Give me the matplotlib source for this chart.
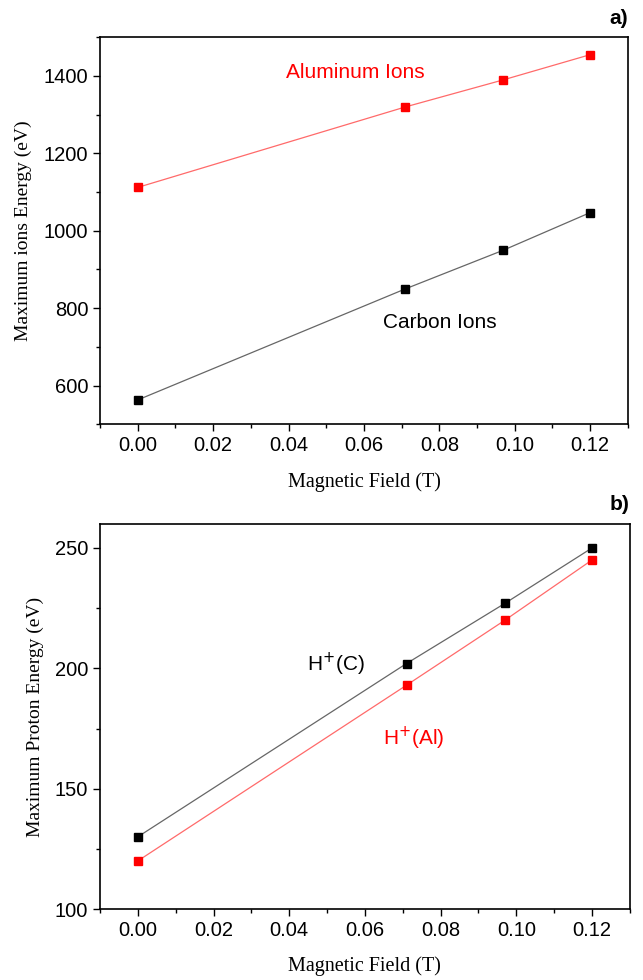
import matplotlib.pyplot as plt
from matplotlib.ticker import MultipleLocator

field = [0.0, 0.071, 0.097, 0.12]
aluminum_ions = [1112, 1320, 1390, 1455]
carbon_ions = [563, 850, 950, 1047]
proton_c = [130, 202, 227, 250]
proton_al = [120, 193, 220, 245]

sans = ['Liberation Sans', 'DejaVu Sans']
serif = ['Liberation Serif', 'DejaVu Serif']


def style_axes(ax):
    ax.set_xlim(-0.01, 0.13)
    ax.xaxis.set_major_locator(MultipleLocator(0.02))
    ax.xaxis.set_minor_locator(MultipleLocator(0.01))
    ax.tick_params(which='both', direction='out', top=False, right=False)
    ax.tick_params(which='major', length=5, width=1, labelsize=14.5)
    ax.tick_params(which='minor', length=3, width=1)
    for lbl in ax.get_xticklabels() + ax.get_yticklabels():
        lbl.set_fontfamily(sans)
    for s in ax.spines.values():
        s.set_linewidth(1.2)
    ax.set_xlabel('Magnetic Field (T)', fontfamily=serif, fontsize=14.5, labelpad=12)
    ax.xaxis.set_major_formatter(plt.FuncFormatter(lambda v, p: '%.2f' % v))


fig = plt.figure(figsize=(6.43, 9.8), dpi=100)

ax1 = fig.add_axes([0.1555, 0.567, 0.821, 0.395])
ax1.plot(field, aluminum_ions, color='#ff6a6a', lw=0.9, marker='s', ms=6,
         mfc='red', mec='red')
ax1.plot(field, carbon_ions, color='#666666', lw=0.9, marker='s', ms=6,
         mfc='black', mec='black')
ax1.set_ylim(500, 1500)
ax1.yaxis.set_major_locator(MultipleLocator(200))
ax1.yaxis.set_minor_locator(MultipleLocator(100))
style_axes(ax1)
ax1.set_ylabel('Maximum ions Energy (eV)', fontfamily=serif, fontsize=14, labelpad=8)
ax1.text(0.0576, 1410, 'Aluminum Ions', color='red', fontsize=15,
         fontfamily=sans, ha='center', va='center')
ax1.text(0.080, 764, 'Carbon Ions', color='black', fontsize=15,
         fontfamily=sans, ha='center', va='center')
ax1.text(1.0, 1.025, 'a)', transform=ax1.transAxes, fontsize=15, fontweight='bold',
         fontfamily=sans, ha='right', va='bottom')

ax2 = fig.add_axes([0.1555, 0.0724, 0.824, 0.393])
ax2.plot(field, proton_c, color='#666666', lw=0.9, marker='s', ms=6,
         mfc='black', mec='black')
ax2.plot(field, proton_al, color='#ff6a6a', lw=0.9, marker='s', ms=6,
         mfc='red', mec='red')
ax2.set_ylim(100, 260)
ax2.yaxis.set_major_locator(MultipleLocator(50))
ax2.yaxis.set_minor_locator(MultipleLocator(25))
style_axes(ax2)
ax2.set_ylabel('Maximum Proton Energy (eV)', fontfamily=serif, fontsize=14, labelpad=8)
ax2.text(0.0523, 201.5, 'H$^{+}$(C)', color='black', fontsize=15,
         fontfamily=sans, ha='center', va='center')
ax2.text(0.073, 171, 'H$^{+}$(Al)', color='red', fontsize=15,
         fontfamily=sans, ha='center', va='center')
ax2.text(1.0, 1.025, 'b)', transform=ax2.transAxes, fontsize=15, fontweight='bold',
         fontfamily=sans, ha='right', va='bottom')

fig.savefig('out.png', dpi=100)
plt.close()
